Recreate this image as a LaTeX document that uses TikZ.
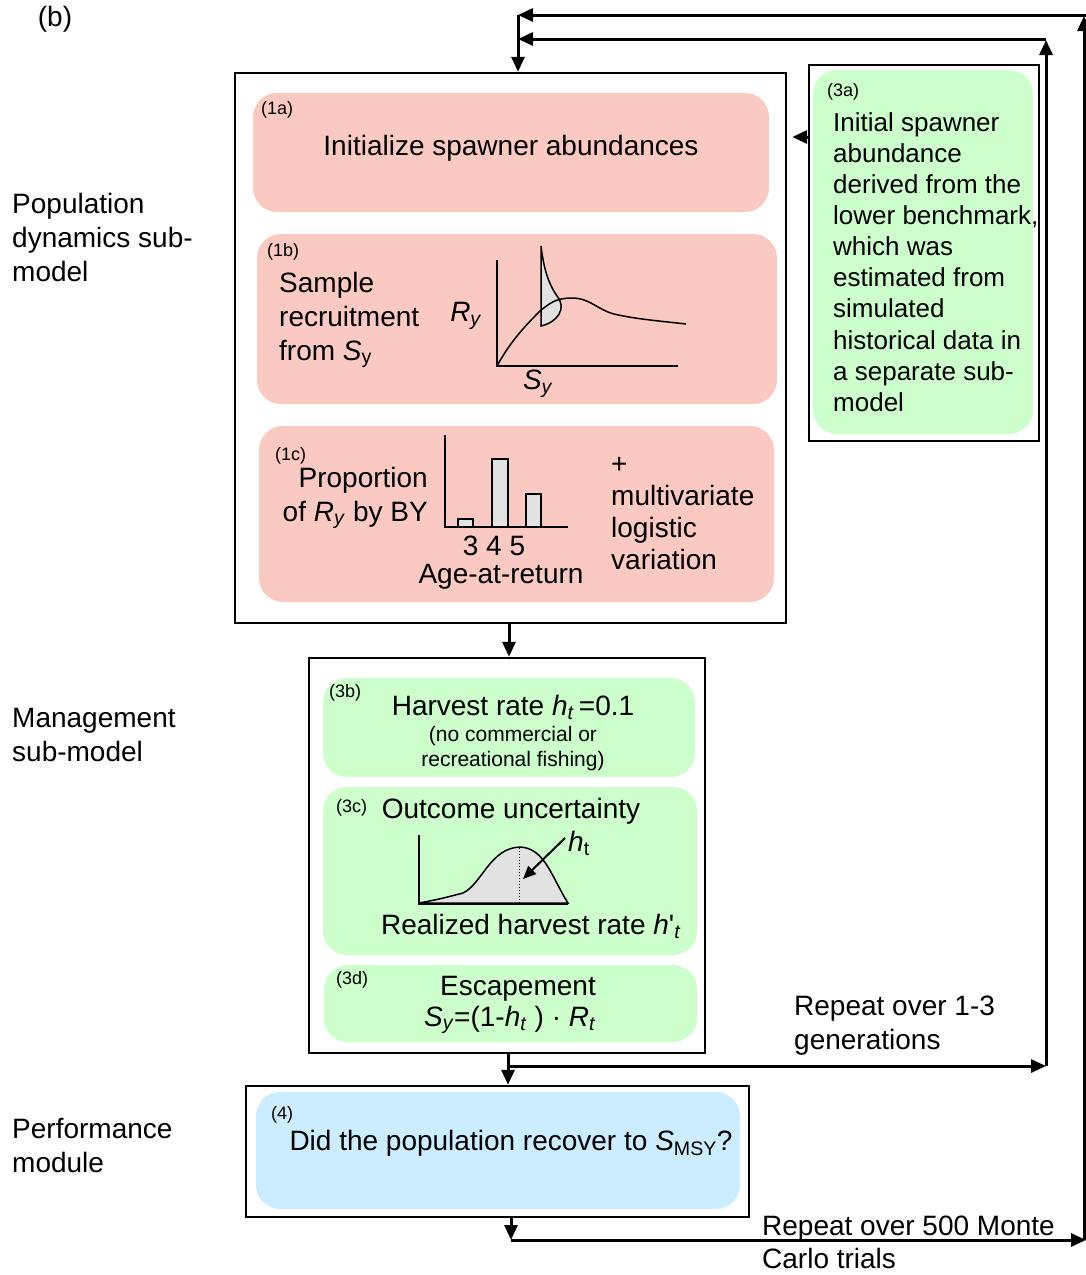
\documentclass[tikz,border=0pt]{standalone}
\usepackage{fontspec}
\setmainfont{Liberation Sans}
\usetikzlibrary{arrows.meta}
\definecolor{pinkbox}{RGB}{250,202,194}
\definecolor{greenbox}{RGB}{204,255,204}
\definecolor{bluebox}{RGB}{204,236,255}
\definecolor{shade}{RGB}{226,226,226}
\begin{document}
\begin{tikzpicture}[x=1pt,y=-1pt,
 every node/.style={font=\fontsize{28}{34}\selectfont, inner sep=0pt},
 frame/.style={draw, line width=2.4pt, rectangle},
 card/.style={rectangle, rounded corners=24pt},
 tag/.style={font=\fontsize{18}{20}\selectfont, anchor=west},
 small/.style={font=\fontsize{21}{25}\selectfont, align=center},
 arr/.style={line width=3pt, -{Triangle[length=15pt,width=13pt]}},
 axis/.style={line width=1.5pt},
]
\path[use as bounding box, fill=white] (0,0) rectangle (1086,1275);

% ---------- frames and cards ----------
\node[frame, minimum width=551pt, minimum height=550pt] (pop) at (510.5,348) {};
\node[card, fill=pinkbox, minimum width=516pt, minimum height=119pt] (c1a) at (511,152.5) {};
\node[card, fill=pinkbox, minimum width=520pt, minimum height=170pt] (c1b) at (517,319) {};
\node[card, fill=pinkbox, minimum width=515pt, minimum height=176pt] (c1c) at (516.5,514) {};

\node[frame, minimum width=230pt, minimum height=376pt] (f3a) at (924,253) {};
\node[card, fill=greenbox, minimum width=220pt, minimum height=364pt] (c3a) at (923,252) {};

\node[frame, minimum width=396pt, minimum height=395pt] (mgmt) at (507,855.5) {};
\node[card, fill=greenbox, minimum width=372pt, minimum height=99pt] (c3b) at (509,727.5) {};
\node[card, fill=greenbox, minimum width=374pt, minimum height=168pt] (c3c) at (510,871) {};
\node[card, fill=greenbox, minimum width=373pt, minimum height=77pt] (c3d) at (510.5,1003.5) {};

\node[frame, minimum width=503pt, minimum height=131pt] (perf) at (497.5,1151.5) {};
\node[card, fill=bluebox, minimum width=484pt, minimum height=117pt] (c4) at (498,1150.5) {};

% ---------- left labels ----------
\node[anchor=center] (lb) at (55,19) {(b)};
\node[anchor=west, align=left] (lpop) at (12,237) {Population\\dynamics sub-\\model};
\node[anchor=west, align=left] (lman) at (12,735) {Management\\sub-model};
\node[anchor=west, align=left] (lperf) at (12,1145) {Performance\\module};

% ---------- 1a ----------
\node[tag] (t1a) at (261,110) {(1a)};
\node (x1a) at (511,148) {Initialize spawner abundances};

% ---------- 1b ----------
\node[tag] (t1b) at (267,252) {(1b)};
\node[anchor=west, align=left] (x1b) at (279,320) {Sample\\recruitment\\from \textit{S}\textsubscript{y}};
\draw[axis, fill=shade] (541,246) .. controls (544,272) and (550,286) .. (557,296)
  .. controls (567,308) and (558,322) .. (541,326) -- cycle;
\draw[axis] (497,260) -- (497,366) -- (678,366);
\draw[axis] (497,366) .. controls (510,342) and (525,326) .. (540,311)
  .. controls (550,303) and (556,298) .. (572,298)
  .. controls (590,298) and (598,310) .. (614,314)
  .. controls (635,319) and (660,321) .. (686,324);
\node (ry) at (466,316) {\textit{R}\textsubscript{\textit{y}}};
\node (sy) at (538,384) {\textit{S}\textsubscript{\textit{y}}};

% ---------- 1c ----------
\node[tag] (t1c) at (275,456) {(1c)};
\node[anchor=east, align=right] (x1c) at (428,498) {Proportion\\of \textit{R}\textsubscript{\textit{y}} by BY};
\draw[axis] (445,435) -- (445,527) -- (568,527);
\draw[axis, fill=shade] (458,527) rectangle (473,519);
\draw[axis, fill=shade] (492,527) rectangle (508,459);
\draw[axis, fill=shade] (526,527) rectangle (541,494);
\node (ages) at (494,546) {3 4 5};
\node (agelab) at (501,577) {Age-at-return};
\node[anchor=west, align=left, font=\fontsize{28}{32}\selectfont] (x1cr) at (611,514) {+\\multivariate\\logistic\\variation};

% ---------- 3a ----------
\node[tag] (t3a) at (827,92) {(3a)};
\node[anchor=west, align=left, font=\fontsize{26}{31.1}\selectfont] (x3a) at (833,262)
 {Initial spawner\\abundance\\derived from the\\lower benchmark,\\which was\\estimated from\\simulated\\historical data in\\a separate sub-\\model};

% ---------- 3b ----------
\node[tag] (t3b) at (329,693) {(3b)};
\node (x3b) at (513,707) {Harvest rate \textit{h}\textsubscript{\textit{t}}\,=0.1};
\node[small] (x3bs) at (513,749) {(no commercial or\\recreational fishing)};

% ---------- 3c ----------
\node[tag] (t3c) at (336,808) {(3c)};
\node (x3c) at (511,811) {Outcome uncertainty};
\draw[axis, fill=shade] (419,903) .. controls (440,899) .. (463,893)
  .. controls (482,884) and (490,848) .. (520,847)
  .. controls (545,848) and (552,878) .. (568,903) -- cycle;
\draw[axis] (419,835) -- (419,904) -- (568,904);
\draw[dotted, line width=1pt] (519,848) -- (519,904);
\coordinate (hfrom) at (565,838);
\coordinate (hto) at (523,879);
\draw[line width=2pt, -{Triangle[length=13pt,width=11pt]}] (hfrom) -- (hto);
\node (ht) at (579,843) {\textit{h}\textsubscript{t}};
\node (x3cb) at (531,926) {Realized harvest rate \textit{h}\textquotesingle\textsubscript{\textit{t}}};

% ---------- 3d ----------
\node[tag] (t3d) at (336,980) {(3d)};
\node (x3d) at (518,989) {Escapement};
\node (x3de) at (510,1020) {\textit{S}\textsubscript{\textit{y}}=(1-\textit{h}\textsubscript{\textit{t}} ) · \textit{R}\textsubscript{\textit{t}}};

% ---------- 4 ----------
\node[tag] (t4) at (271,1115) {(4)};
\node (x4) at (511,1143) {Did the population recover to \textit{S}\textsubscript{MSY}?};

% ---------- repeat labels ----------
\node[anchor=west, align=left] (rep1) at (794,1026) {Repeat over 1-3\\generations};
\node[anchor=west, align=left, font=\fontsize{28}{33}\selectfont] (rep2) at (762,1242) {Repeat over 500 Monte\\Carlo trials};

% ---------- connectors ----------
\coordinate (topL) at (518,15);
\coordinate (topR) at (1084,15);
\coordinate (topE) at (1086,15);
\coordinate (midL) at (518,39);
\coordinate (midR) at (1046,39);
\coordinate (genL) at (508,1066);
\coordinate (genR) at (1046,1066);
\coordinate (mcL) at (511,1240);
\coordinate (mcR) at (1086,1240);
\coordinate (mcV) at (1084,1240);
\coordinate (popx) at (509,640);

\draw[arr] (topE) -- (topL);
\draw[arr] (midR) -- (midL);
\draw[arr] (topL) -- (topL |- pop.north);
\draw[arr, shorten >=5pt] (f3a.west |- 0,137) -- (pop.east |- 0,137);
\draw[arr] (pop.south -| popx) -- (mgmt.north -| popx);
\draw[arr] (mgmt.south -| genL) -- (perf.north -| genL);
\draw[arr] (genL) -- (genR);
\draw[arr] (genR) -- ([yshift=-1pt]midR);
\draw[arr] (perf.south -| mcL) -- (mcL);
\draw[arr] (mcL) -- (mcR);
\draw[arr] (mcV) -- ([yshift=-1pt]topR);
\end{tikzpicture}
\end{document}
